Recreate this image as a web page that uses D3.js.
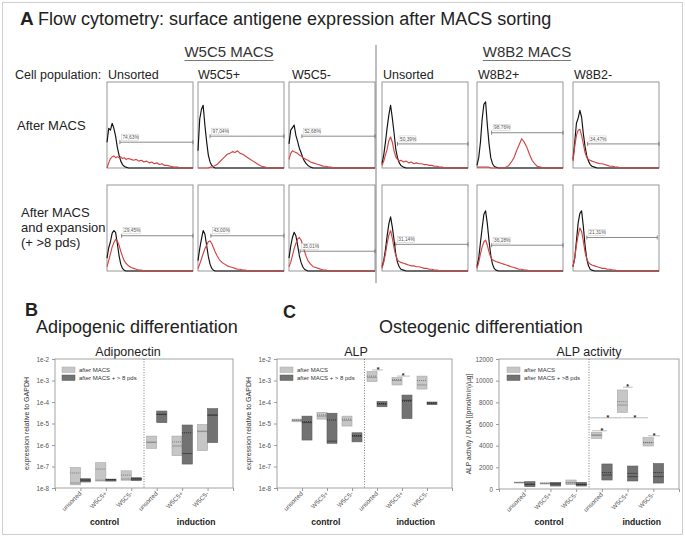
<!DOCTYPE html>
<html><head><meta charset="utf-8">
<script src="https://cdn.jsdelivr.net/npm/d3@7"></script>
<style>body{margin:0;background:#fff;} svg{display:block;font-family:"Liberation Sans",Arial,Helvetica,sans-serif;}</style>
</head><body><svg id="c" width="685" height="541"></svg>
<script>
// ---------------- DATA ----------------
const sortHeaders = ["W5C5 MACS", "W8B2 MACS"];
const populations = ["Unsorted", "W5C5+", "W5C5-", "Unsorted", "W8B2+", "W8B2-"];
const rowLabels = [["After MACS"], ["After MACS", "and expansion", "(+ >8 pds)"]];
// histogram channel grid (fraction of log fluorescence axis)
const histX = [0,.02,.04,.06,.08,.10,.12,.14,.16,.18,.20,.22,.25,.28,.31,.34,.37,.40,.43,.46,.49,.52,.55,.58,.61,.64,.67,.70,.74,.78,.82,.86,.90,.95,1];
// counts (% of panel height) – isotype control (black) and antibody stain (red), row 1 then row 2
const blackCurves = [
 [30,46,44,52,46,37,24,15,8,4,2,1,0,0,0,0,0,0,0,0,0,0,0,0,0,0,0,0,0,0,0,0,0,0,0],
 [20,57,68,73,50,31,15,7,3,1,0,0,0,0,0,0,0,0,0,0,0,0,0,0,0,0,0,0,0,0,0,0,0,0,0],
 [28,44,47,50,38,31,23,18,12,8,5,3,1,0,0,0,0,0,0,0,0,0,0,0,0,0,0,0,0,0,0,0,0,0,0],
 [5,15,30,47,62,73,58,41,22,12,6,3,1,0,0,0,0,0,0,0,0,0,0,0,0,0,0,0,0,0,0,0,0,0,0],
 [3,12,30,57,74,77,50,28,12,5,2,1,0,0,0,0,0,0,0,0,0,0,0,0,0,0,0,0,0,0,0,0,0,0,0],
 [10,30,52,58,67,59,40,25,14,8,4,2,1,0,0,0,0,0,0,0,0,0,0,0,0,0,0,0,0,0,0,0,0,0,0],
 [15,27,34,44,47,45,32,18,8,3,1,0,0,0,0,0,0,0,0,0,0,0,0,0,0,0,0,0,0,0,0,0,0,0,0],
 [12,26,37,47,43,30,17,8,3,1,0,0,0,0,0,0,0,0,0,0,0,0,0,0,0,0,0,0,0,0,0,0,0,0,0],
 [15,29,39,45,41,30,18,10,5,2,1,0,0,0,0,0,0,0,0,0,0,0,0,0,0,0,0,0,0,0,0,0,0,0,0],
 [5,12,25,41,55,63,51,36,20,10,5,2,1,0,0,0,0,0,0,0,0,0,0,0,0,0,0,0,0,0,0,0,0,0,0],
 [5,15,33,50,66,70,55,35,18,8,3,1,0,0,0,0,0,0,0,0,0,0,0,0,0,0,0,0,0,0,0,0,0,0,0],
 [5,15,35,56,67,70,52,30,14,6,2,1,0,0,0,0,0,0,0,0,0,0,0,0,0,0,0,0,0,0,0,0,0,0,0]
];
const redCurves = [
 [0,6,11,13,14,12,13,12,13,11,12,10,11,10,9,10,8,9,7,8,6,7,5,6,4,5,3,3,2,1,1,0,0,0,0],
 [0,0,0,0,0,0,0,1,1,2,3,4,7,10,13,16,17,19,18,20,17,16,14,12,10,8,6,4,2,1,0,0,0,0,0],
 [10,17,20,19,18,17,15,14,12,11,10,9,7,6,5,4,3,2,2,1,1,0,0,0,0,0,0,0,0,0,0,0,0,0,0],
 [3,8,15,22,32,36,30,20,13,10,8,9,7,8,6,7,5,6,5,5,4,4,3,3,2,2,1,1,0,0,0,0,0,0,0],
 [1,1,1,1,1,1,1,1,0,0,0,0,0,0,0,1,3,7,12,20,27,34,30,24,16,9,5,2,1,0,0,0,0,0,0],
 [8,25,38,44,45,38,28,18,12,10,9,8,7,6,5,5,4,3,2,2,1,1,0,0,0,0,0,0,0,0,0,0,0,0,0],
 [5,12,20,28,33,37,35,30,23,17,12,9,6,4,3,2,1,1,0,0,0,0,0,0,0,0,0,0,0,0,0,0,0,0,0],
 [3,8,14,20,26,30,34,35,32,27,22,18,13,10,8,6,5,4,3,2,2,1,1,0,0,0,0,0,0,0,0,0,0,0,0],
 [5,10,18,26,32,37,39,36,30,23,17,12,8,5,4,3,2,1,1,0,0,0,0,0,0,0,0,0,0,0,0,0,0,0,0],
 [3,10,20,32,42,47,38,27,18,13,11,10,9,8,7,6,6,5,5,4,3,3,2,2,1,1,0,0,0,0,0,0,0,0,0],
 [3,10,20,28,34,36,30,22,16,13,12,11,10,9,8,7,6,5,4,3,2,2,1,1,0,0,0,0,0,0,0,0,0,0,0],
 [5,15,30,42,50,46,35,22,14,10,8,7,6,5,4,3,3,2,2,1,1,0,0,0,0,0,0,0,0,0,0,0,0,0,0]
];
const gatePercents = ["74,63%","97,04%","52,68%","50,39%","98,76%","34,47%","29,45%","43,00%","35,01%","31,14%","36,28%","21,31%"];
const gateStart = [0.15,0.14,0.15,0.18,0.17,0.17,0.17,0.15,0.13,0.16,0.17,0.16];
const gateEnd   = [1,1,1,1,1,1,1,1,1,1,1,0.98];
const gateLevel = [30,37,37,28,41,28,41,41,23,31,30,39];

const categories = ["unsorted", "W5C5+", "W5C5-", "unsorted", "W5C5+", "W5C5-"];
const groups = ["control", "induction"];
const seriesNames = ["after MACS", "after MACS + > 8 pds"];
const seriesNamesAct = ["after MACS", "after MACS + >8 pds"];
const logTicks = [1e-8,1e-7,1e-6,1e-5,1e-4,1e-3,1e-2];
const logTickLabels = ["1e-8","1e-7","1e-6","1e-5","1e-4","1e-3","1e-2"];
const actTicks = [0,2000,4000,6000,8000,10000,12000];
const actTickLabels = ["0","2000","4000","6000","8000","10000","12000"];
// boxes: [lower, median, upper, mean]
const adipoAfter = [[1.4e-8,1.7e-8,9e-8,5e-8],[2.1e-8,2.3e-8,1.5e-7,7.6e-8],[2.3e-8,2.6e-8,6.3e-8,4e-8],[7e-7,1.3e-6,2.6e-6,1.4e-6],[3.2e-7,9e-7,2.6e-6,1.4e-6],[5.5e-7,4.2e-6,9e-6,4.5e-6]];
const adipoExp   = [[1.9e-8,2.3e-8,2.7e-8,2.4e-8],[2.1e-8,2.4e-8,2.6e-8,2.45e-8],[2.2e-8,2.6e-8,3e-8,2.7e-8],[1.1e-5,2.7e-5,3.8e-5,2.6e-5],[1.3e-7,4e-7,8.5e-6,3.7e-6],[1.3e-6,2.5e-5,4.9e-5,2.4e-5]];
const alpAfter   = [[1.2e-5,1.4e-5,1.6e-5,1.45e-5],[1.6e-5,2.2e-5,3.3e-5,2.5e-5],[7.6e-6,1.4e-5,2.2e-5,1.6e-5],[9e-4,1.4e-3,2.6e-3,1.6e-3],[6.2e-4,1.0e-3,1.35e-3,1.1e-3],[4e-4,6.2e-4,1.6e-3,1.0e-3]];
const alpExp     = [[1.7e-6,1.1e-5,2.2e-5,1.2e-5],[1.2e-6,1.5e-6,3e-5,1.45e-5],[1.4e-6,2.6e-6,3.7e-6,2.7e-6],[6e-5,8e-5,1.05e-4,8.5e-5],[1.7e-5,1.2e-4,2.1e-4,1.1e-4],[7.5e-5,8.8e-5,1.0e-4,9e-5]];
const actAfter   = [[560,600,640,600],[460,520,560,530],[400,580,830,560],[4680,4950,5230,5000],[7080,7750,9140,8060],[3970,4270,4740,4300]];
const actExp     = [[215,430,675,440],[275,460,615,470],[275,420,615,430],[830,1290,2310,1510],[740,1140,2120,1440],[550,1140,2350,1510]];
// significance bars: [level, from, to, star position] (x in category units)
const alpSig = [[3.1e-3,3.8,4.24,4.04],[1.6e-3,4.8,5.32,5.04]];
const actSig = [[5380,3.62,4.2,4.0],[6580,3.45,4.8,4.23],[6580,4.82,5.8,5.28],[9390,4.82,5.2,5.0],[4920,5.8,6.26,6.03]];

// ---------------- DRAW ----------------
const svg = d3.select("#c");
const TXT = "#222";
svg.append("rect").attr("x",2.5).attr("y",2.5).attr("width",680).attr("height",532)
  .attr("fill","none").attr("stroke","#cfcfcf").attr("stroke-width",1);

// Panel A title
svg.append("text").attr("x",20).attr("y",25).attr("font-size",19).attr("font-weight","bold").attr("fill",TXT).text("A");
svg.append("text").attr("x",38).attr("y",25).attr("font-size",18).attr("fill",TXT)
  .text("Flow cytometry: surface antigene expression after MACS sorting");

// separator
svg.append("line").attr("x1",376).attr("x2",376).attr("y1",45).attr("y2",283).attr("stroke","#a8a8a8").attr("stroke-width",1.5);

const headerX = [229, 527];
sortHeaders.forEach((h,i)=>{
  const t = svg.append("text").attr("x",headerX[i]).attr("y",57).attr("text-anchor","middle")
    .attr("font-size",15).attr("fill","#333").text(h);
  const w = t.node().getComputedTextLength();
  svg.append("line").attr("x1",headerX[i]-w/2).attr("x2",headerX[i]+w/2).attr("y1",60.5).attr("y2",60.5)
    .attr("stroke","#555").attr("stroke-width",0.8);
});

svg.append("text").attr("x",15).attr("y",79).attr("font-size",12.5).attr("fill",TXT).text("Cell population:");
const panelLeft = [107,198,289,382,477,573];
const popLabelX = [108,198,292,383,478,574];
populations.forEach((p,i)=>{
  svg.append("text").attr("x",popLabelX[i]).attr("y",79).attr("font-size",12.5).attr("fill",TXT).text(p);
});
svg.append("text").attr("x",17).attr("y",130).attr("font-size",13).attr("fill",TXT).text(rowLabels[0][0]);
rowLabels[1].forEach((l,i)=>{
  svg.append("text").attr("x",21).attr("y",217+i*15).attr("font-size",13).attr("fill",TXT).text(l);
});

const rowTop = [82,185];
const PW = 86, PH = 86;
for (let k=0;k<12;k++){
  const r = Math.floor(k/6), c = k%6;
  const x0 = panelLeft[c], y0 = rowTop[r];
  const xs = d3.scaleLinear().domain([0,1]).range([x0, x0+PW]);
  const ys = d3.scaleLinear().domain([0,100]).range([y0+PH, y0]);
  const g = svg.append("g");
  g.append("rect").attr("x",x0).attr("y",y0).attr("width",PW).attr("height",PH)
    .attr("fill","#fff").attr("stroke","#8c8c8c").attr("stroke-width",0.9);
  const line = d3.line().x((d,i)=>xs(histX[i])).y(d=>ys(d)).curve(d3.curveLinear);
  g.append("path").datum(blackCurves[k]).attr("d",line).attr("fill","none")
    .attr("stroke","#111").attr("stroke-width",1.15).attr("stroke-linejoin","round");
  g.append("path").datum(redCurves[k]).attr("d",line).attr("fill","none")
    .attr("stroke","#d24444").attr("stroke-width",1.15).attr("stroke-linejoin","round");
  // gate
  const gx1 = xs(gateStart[k]), gx2 = xs(gateEnd[k]), gy = ys(gateLevel[k]);
  g.append("line").attr("x1",gx1).attr("x2",gx2).attr("y1",gy).attr("y2",gy).attr("stroke","#6c6c6c").attr("stroke-width",0.8);
  [gx1,gx2].forEach(xx=>g.append("line").attr("x1",xx).attr("x2",xx).attr("y1",gy-2).attr("y2",gy+2).attr("stroke","#6c6c6c").attr("stroke-width",0.8));
  g.append("rect").attr("x",gx1+1.5).attr("y",gy-8).attr("width",17).attr("height",6)
    .attr("fill","#fff").attr("stroke","#c4c4c4").attr("stroke-width",0.5);
  g.append("text").attr("x",gx1+2.5).attr("y",gy-3.3).attr("font-size",4.8).attr("fill","#555").text(gatePercents[k]);
}

// Panels B and C titles
svg.append("text").attr("x",25).attr("y",316).attr("font-size",18).attr("font-weight","bold").attr("fill",TXT).text("B");
svg.append("text").attr("x",283).attr("y",318).attr("font-size",18).attr("font-weight","bold").attr("fill",TXT).text("C");
svg.append("text").attr("x",36).attr("y",333).attr("font-size",18).attr("fill",TXT).text("Adipogenic differentiation");
svg.append("text").attr("x",379).attr("y",333).attr("font-size",18).attr("fill",TXT).text("Osteogenic differentiation");

function boxPlot(o){
  const x = d3.scaleLinear().domain([0,7]).range([o.left,o.right]);
  const y = o.y;
  const g = svg.append("g");
  g.append("text").attr("x",o.titleX).attr("y",356).attr("text-anchor","middle").attr("font-size",12.5).attr("fill",TXT).text(o.title);
  g.append("rect").attr("x",o.left).attr("y",o.top).attr("width",o.right-o.left).attr("height",o.bottom-o.top)
    .attr("fill","none").attr("stroke","#9a9a9a").attr("stroke-width",0.9);
  const ya = d3.axisLeft(y).tickValues(o.ticks).tickFormat((d,i)=>o.tickLabels[i]).tickSize(3).tickPadding(3);
  g.append("g").attr("transform",`translate(${o.left},0)`).call(ya).call(s=>{
    s.select(".domain").remove();
    s.selectAll("line").attr("stroke","#9a9a9a");
    s.selectAll("text").attr("font-size",6.3).attr("fill","#555").attr("font-family",'"Liberation Sans",Arial,sans-serif');
  });
  const xa = d3.axisBottom(x).tickValues([0,1,2,3,4,5,6,7]).tickFormat("").tickSize(3);
  g.append("g").attr("transform",`translate(0,${o.bottom})`).call(xa).call(s=>{
    s.select(".domain").remove();
    s.selectAll("line").attr("stroke","#9a9a9a");
  });
  // separator
  g.append("line").attr("x1",x(3.5)).attr("x2",x(3.5)).attr("y1",o.top).attr("y2",o.bottom)
    .attr("stroke","#555").attr("stroke-width",0.8).attr("stroke-dasharray","1,1.6");
  // boxes
  const series = [
    {data:o.after, off:-0.4, fill:"#c6c6c6", stroke:"#a6a6a6", med:"#8a8a8a", mean:"#6a6a6a"},
    {data:o.exp, off:0, fill:"#727272", stroke:"#5a5a5a", med:"#3a3a3a", mean:"#1a1a1a"}
  ];
  series.forEach(s=>{
    s.data.forEach((d,i)=>{
      const c = i+1;
      const xa0 = x(c+s.off), xa1 = x(c+s.off+0.4);
      const yt = y(d[2]), yb = y(d[0]);
      g.append("rect").attr("x",xa0).attr("y",yt).attr("width",xa1-xa0).attr("height",Math.max(1,yb-yt))
        .attr("fill",s.fill).attr("stroke",s.stroke).attr("stroke-width",0.6);
      g.append("line").attr("x1",xa0).attr("x2",xa1).attr("y1",y(d[1])).attr("y2",y(d[1]))
        .attr("stroke",s.med).attr("stroke-width",0.8);
      g.append("line").attr("x1",xa0).attr("x2",xa1).attr("y1",y(d[3])).attr("y2",y(d[3]))
        .attr("stroke",s.mean).attr("stroke-width",0.8).attr("stroke-dasharray","1,1");
    });
  });
  // significance
  (o.sig||[]).forEach(s=>{
    g.append("line").attr("x1",x(s[1])).attr("x2",x(s[2])).attr("y1",y(s[0])).attr("y2",y(s[0]))
      .attr("stroke","#cfcfcf").attr("stroke-width",1.4);
    g.append("text").attr("x",x(s[3])).attr("y",y(s[0])+2).attr("text-anchor","middle")
      .attr("font-size",7).attr("font-weight","bold").attr("fill","#222").text("*");
  });
  // legend
  const lx = o.left + o.legendDx;
  [0,1].forEach(j=>{
    g.append("rect").attr("x",lx).attr("y",367+j*8).attr("width",13).attr("height",5.5)
      .attr("fill",series[j].fill).attr("stroke",series[j].stroke).attr("stroke-width",0.5);
    g.append("text").attr("x",lx+17).attr("y",372+j*8).attr("font-size",6).attr("fill","#333").text(o.legend[j]);
  });
  // category labels
  categories.forEach((cname,i)=>{
    const cx = x(i+1)+1.5, cy = o.bottom+6;
    g.append("text").attr("transform",`translate(${cx},${cy}) rotate(-45)`).attr("text-anchor","end")
      .attr("font-size",6.3).attr("fill","#555").text(cname);
  });
  g.append("text").attr("x",x(1.95)).attr("y",525).attr("text-anchor","middle").attr("font-size",8.6).attr("font-weight","bold").attr("fill",TXT).text(groups[0]);
  g.append("text").attr("x",x(5.55)).attr("y",525).attr("text-anchor","middle").attr("font-size",8.6).attr("font-weight","bold").attr("fill",TXT).text(groups[1]);
  // y label
  g.append("text").attr("transform",`translate(${o.ylabelX},${(o.top+o.bottom)/2}) rotate(-90)`).attr("text-anchor","middle")
    .attr("font-size",o.ylabelSize).attr("fill","#333").text(o.ylabel);
}

boxPlot({left:55,right:233,top:359,bottom:488,
  y:d3.scaleLog().domain([1e-8,1e-2]).range([488,359]), ticks:logTicks, tickLabels:logTickLabels,
  after:adipoAfter, exp:adipoExp, title:"Adiponectin", titleX:128, legend:seriesNames, legendDx:7,
  ylabel:"expression relative to GAPDH", ylabelX:29, ylabelSize:7});
boxPlot({left:277,right:452,top:359,bottom:488,
  y:d3.scaleLog().domain([1e-8,1e-2]).range([488,359]), ticks:logTicks, tickLabels:logTickLabels,
  after:alpAfter, exp:alpExp, title:"ALP", titleX:356, legend:seriesNames, legendDx:3, sig:alpSig,
  ylabel:"expression relative to GAPDH", ylabelX:251, ylabelSize:7});
boxPlot({left:499,right:679,top:359,bottom:489,
  y:d3.scaleLinear().domain([0,12000]).range([489,359]), ticks:actTicks, tickLabels:actTickLabels,
  after:actAfter, exp:actExp, title:"ALP activity", titleX:589, legend:seriesNamesAct, legendDx:8, sig:actSig,
  ylabel:"ALP activity / DNA [(pmol/min)/µg]", ylabelX:471, ylabelSize:6.7});
</script></body></html>
